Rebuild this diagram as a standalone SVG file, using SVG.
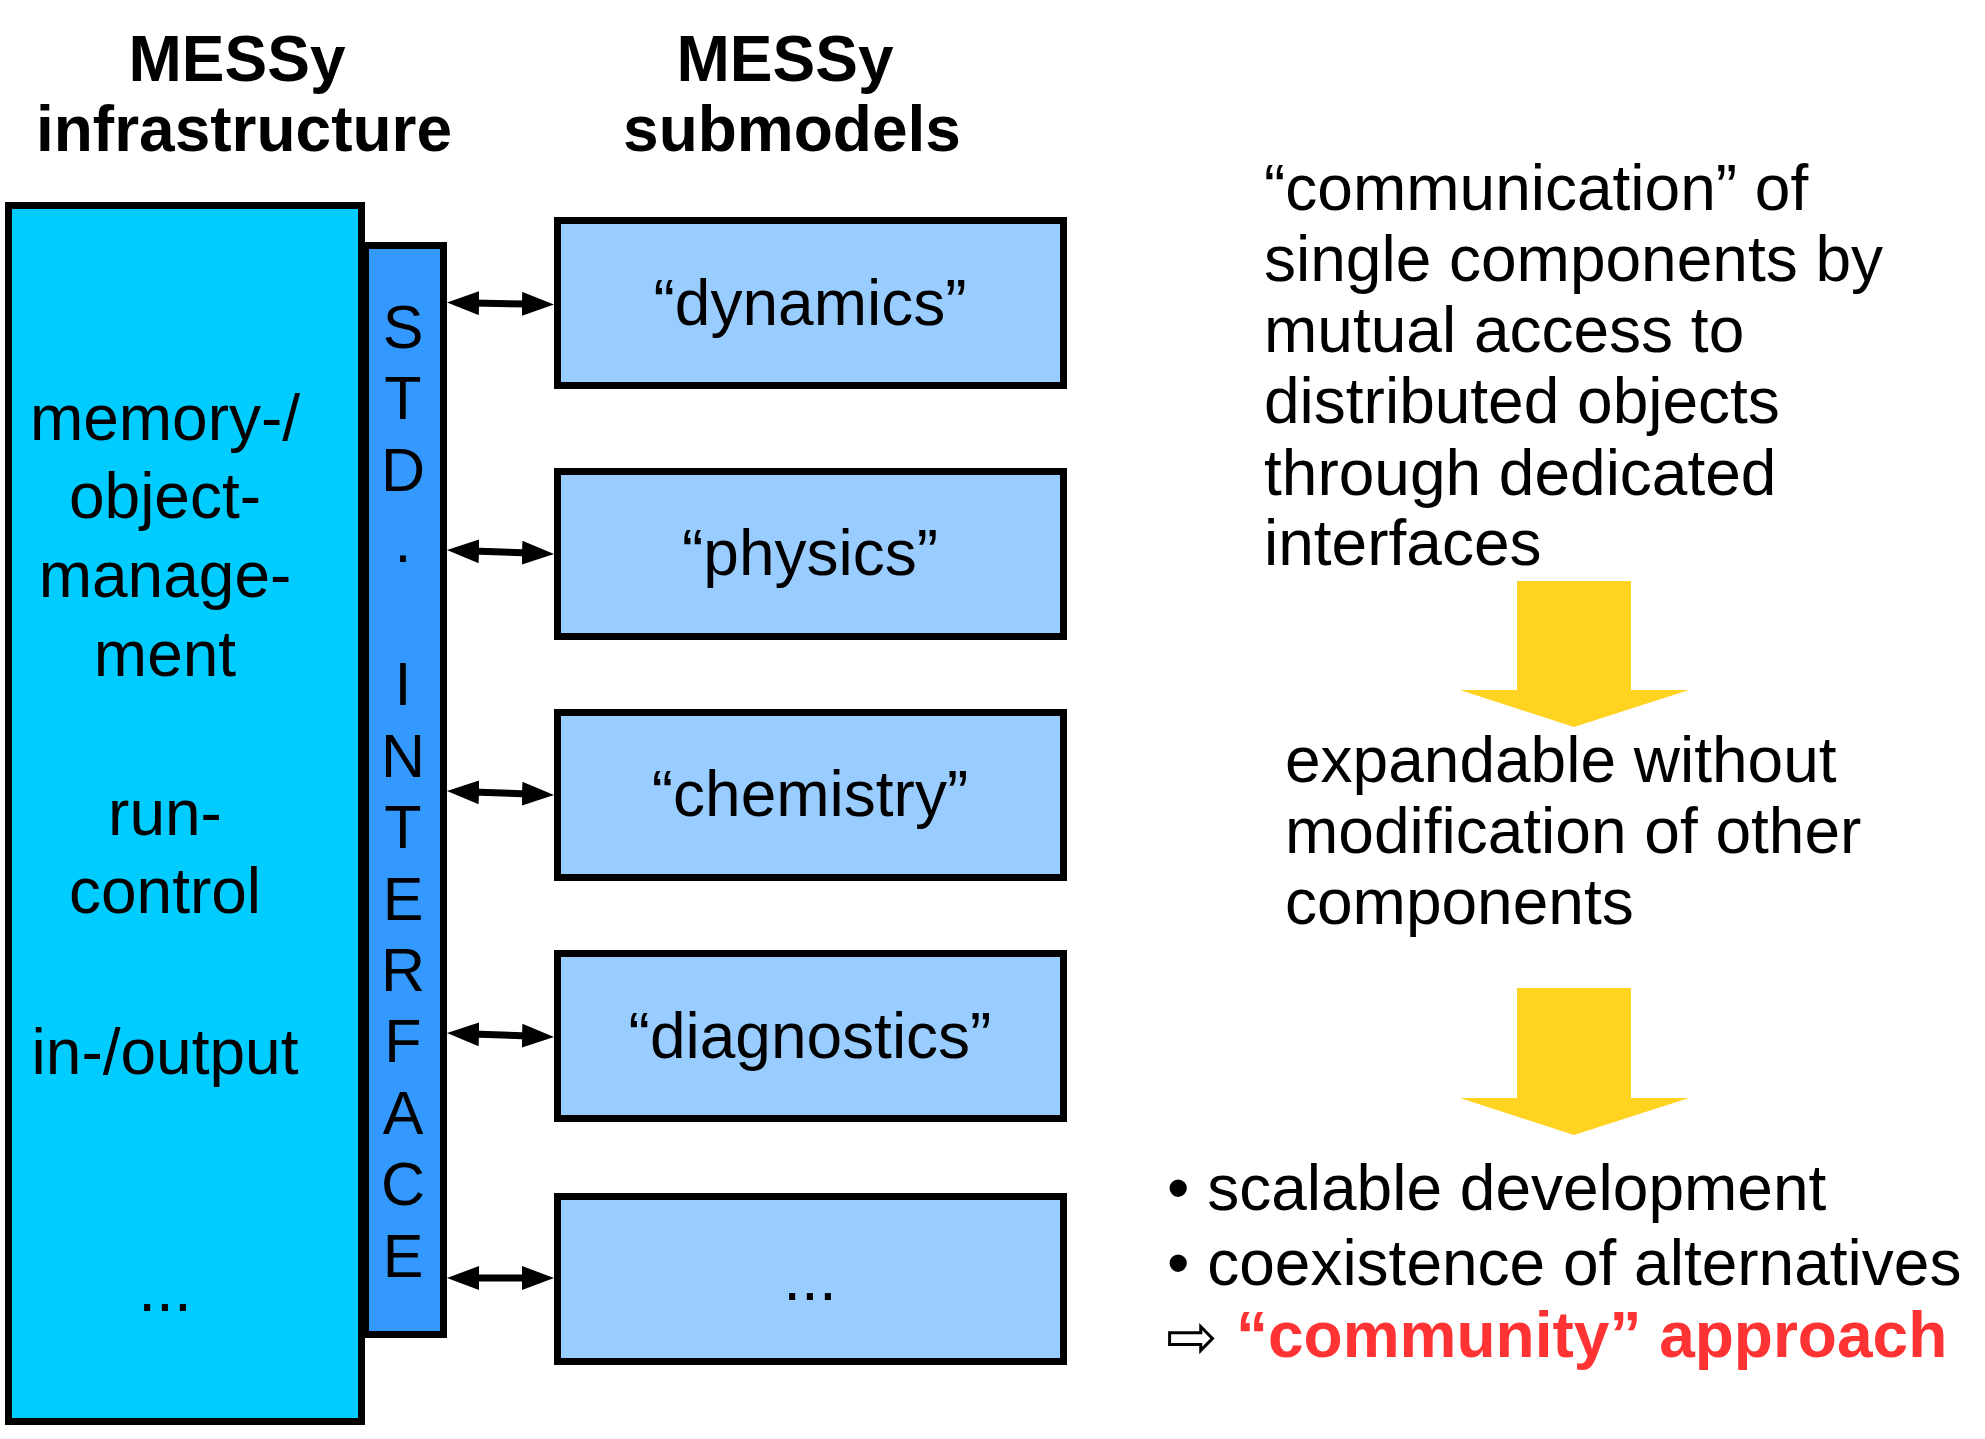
<svg xmlns="http://www.w3.org/2000/svg" width="1985" height="1439" viewBox="0 0 1985 1439">
<style>
  text { font-family: "Liberation Sans", Arial, sans-serif; fill: #000; }
  .title { font-size: 64px; font-weight: bold; text-anchor: middle; }
  .lbl { font-size: 64px; text-anchor: middle; }
  .body { font-size: 64px; }
  .iface { font-size: 61px; text-anchor: middle; }
  .sub { fill: #99CCFF; stroke: #000; stroke-width: 7; }
  .conn { stroke: #000; stroke-width: 7; fill: none; marker-start: url(#ah); marker-end: url(#ah); }
  .yarrow { fill: #FFD320; }
</style>
<defs>
  <marker id="ah" markerUnits="userSpaceOnUse" viewBox="0 0 32 24" markerWidth="32" markerHeight="24" refX="7" refY="12" orient="auto-start-reverse">
    <path d="M0,0 L32,12 L0,24 z" fill="#000"/>
  </marker>
</defs>
<rect width="1985" height="1439" fill="#fff"/>

<text class="title" x="237" y="81">MESSy</text>
<text class="title" x="244" y="151">infrastructure</text>
<text class="title" x="785" y="81">MESSy</text>
<text class="title" x="792" y="151">submodels</text>

<g id="infrastructure">
  <rect x="8.5" y="205.5" width="353" height="1216" fill="#00CCFF" stroke="#000" stroke-width="7"/>
  <text class="lbl" x="165" y="440">memory-/</text>
  <text class="lbl" x="165" y="518">object-</text>
  <text class="lbl" x="165" y="597">manage-</text>
  <text class="lbl" x="165" y="676">ment</text>
  <text class="lbl" x="165" y="835">run-</text>
  <text class="lbl" x="165" y="913">control</text>
  <text class="lbl" x="165" y="1074">in-/output</text>
  <text class="lbl" x="165" y="1311">...</text>
</g>

<g id="std-interface">
  <rect x="365.5" y="245.5" width="78" height="1089" fill="#3399FF" stroke="#000" stroke-width="7"/>
  <text class="iface" x="403" y="348">S</text>
  <text class="iface" x="403" y="419">T</text>
  <text class="iface" x="403" y="491">D</text>
  <text class="iface" x="403" y="562">.</text>
  <text class="iface" x="403" y="705">I</text>
  <text class="iface" x="403" y="777">N</text>
  <text class="iface" x="403" y="848">T</text>
  <text class="iface" x="403" y="920">E</text>
  <text class="iface" x="403" y="991">R</text>
  <text class="iface" x="403" y="1062">F</text>
  <text class="iface" x="403" y="1134">A</text>
  <text class="iface" x="403" y="1205">C</text>
  <text class="iface" x="403" y="1277">E</text>
</g>

<g id="dynamics">
  <rect class="sub" x="557.5" y="220.5" width="506" height="165"/>
  <text class="lbl" x="810" y="325">“dynamics”</text>
</g>
<g id="physics">
  <rect class="sub" x="557.5" y="471.5" width="506" height="165"/>
  <text class="lbl" x="810" y="575">“physics”</text>
</g>
<g id="chemistry">
  <rect class="sub" x="557.5" y="712.5" width="506" height="165"/>
  <text class="lbl" x="810" y="816">“chemistry”</text>
</g>
<g id="diagnostics">
  <rect class="sub" x="557.5" y="953.5" width="506" height="165"/>
  <text class="lbl" x="810" y="1058">“diagnostics”</text>
</g>
<g id="more">
  <rect class="sub" x="557.5" y="1196.5" width="506" height="165"/>
  <text class="lbl" x="810" y="1300">...</text>
</g>

<g id="connectors">
  <line class="conn" x1="472" y1="303" x2="529" y2="304"/>
  <line class="conn" x1="472" y1="551" x2="529" y2="553"/>
  <line class="conn" x1="472" y1="792" x2="529" y2="794"/>
  <line class="conn" x1="472" y1="1034" x2="529" y2="1036"/>
  <line class="conn" x1="472" y1="1278" x2="529" y2="1278"/>
</g>

<g id="explanation">
  <text class="body" x="1264" y="210">“communication” of</text>
  <text class="body" x="1264" y="281">single components by</text>
  <text class="body" x="1264" y="352">mutual access to</text>
  <text class="body" x="1264" y="423">distributed objects</text>
  <text class="body" x="1264" y="495">through dedicated</text>
  <text class="body" x="1264" y="565">interfaces</text>
</g>

<g id="arrow1">
  <polygon class="yarrow" points="1517,581 1631,581 1631,690 1689,690 1574,727 1460,690 1517,690"/>
</g>

<g id="expandable">
  <text class="body" x="1285" y="782">expandable without</text>
  <text class="body" x="1285" y="853">modification of other</text>
  <text class="body" x="1285" y="924">components</text>
</g>

<g id="arrow2">
  <polygon class="yarrow" points="1517,988 1631,988 1631,1098 1689,1098 1574,1135 1460,1098 1517,1098"/>
</g>

<g id="conclusions">
  <text class="body" x="1167" y="1210">• scalable development</text>
  <text class="body" x="1167" y="1285">• coexistence of alternatives</text>
  <text x="1166" y="1358" style="font-family:'DejaVu Sans',sans-serif;font-size:62px;">⇨</text>
  <text class="body" x="1236" y="1357" style="font-weight:bold;fill:#FF3333;">“community” approach</text>
</g>
</svg>
